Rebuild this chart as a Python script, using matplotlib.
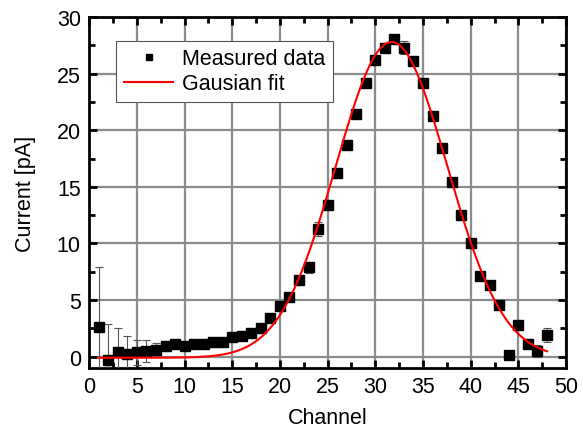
import numpy as np
import matplotlib.pyplot as plt
from matplotlib.ticker import MultipleLocator

plt.rcParams['font.family'] = ['Liberation Sans', 'DejaVu Sans']

# measured data
channel = np.arange(1, 49)
current = [2.6, -0.3, 0.4, 0.2, 0.4, 0.5, 0.6, 0.9, 1.1, 0.9,
           1.1, 1.1, 1.3, 1.3, 1.7, 1.8, 2.1, 2.5, 3.4, 4.5,
           5.3, 6.8, 7.9, 11.3, 13.4, 16.2, 18.7, 21.4, 24.2, 26.2,
           27.3, 28.1, 27.3, 26.1, 24.2, 21.3, 18.4, 15.4, 12.5, 10.0,
           7.1, 6.3, 4.6, 0.1, 2.8, 1.1, 0.5, 1.9]
error = [5.3, 3.2, 2.1, 1.6, 1.1, 1.0, 0.6, 0.4, 0.3, 0.2,
         0.1, 0.1, 0.1, 0.1, 0.2, 0.2, 0.3, 0.4, 0.2, 0.2,
         0.2, 0.2, 0.5, 0.6, 0.3, 0.2, 0.2, 0.2, 0.2, 0.2,
         0.2, 0.2, 0.6, 0.3, 0.2, 0.2, 0.2, 0.2, 0.2, 0.2,
         0.2, 0.2, 0.2, 0.1, 0.3, 0.2, 0.5, 0.6]

# gaussian fit parameters
y0 = -0.1
amp = 27.9
xc = 31.7
sigma = 5.85

xfit = np.linspace(1, 48, 300)
yfit = y0 + amp * np.exp(-(xfit - xc) ** 2 / (2 * sigma ** 2))

fig = plt.figure(figsize=(5.83, 4.31), dpi=100)
ax = fig.add_axes([0.153, 0.144, 0.818, 0.814])

ax.errorbar(channel, current, yerr=error, fmt='none', ecolor='#555555',
            elinewidth=0.8, capsize=3, capthick=0.8, zorder=3)
ax.plot(channel, current, 's', color='black', markersize=6.8,
        label='Measured data', zorder=4)
ax.plot(xfit, yfit, color='red', lw=1.5, label='Gausian fit', zorder=5)

ax.set_xlim(0, 50)
ax.set_ylim(-1, 30)
ax.xaxis.set_major_locator(MultipleLocator(5))
ax.xaxis.set_minor_locator(MultipleLocator(2.5))
ax.yaxis.set_major_locator(MultipleLocator(5))
ax.yaxis.set_minor_locator(MultipleLocator(2.5))
ax.tick_params(which='both', direction='in', top=True, right=True,
               labelsize=15.5, width=2, color='black')
ax.tick_params(which='major', length=6, pad=6)
ax.tick_params(which='minor', length=4)
for s in ax.spines.values():
    s.set_linewidth(2)

ax.grid(True, which='major', color='#8c8c8c', lw=1.6)
ax.set_axisbelow(True)

ax.set_xlabel('Channel', fontsize=15.5, labelpad=7)
ax.set_ylabel('Current [pA]', fontsize=15.5, labelpad=15)

leg = ax.legend(loc='upper left', bbox_to_anchor=(0.057, 0.933), fontsize=15.5,
                fancybox=False, framealpha=1, edgecolor='#555555',
                borderpad=0.35, handlelength=2.3, handletextpad=0.4,
                labelspacing=0.2, markerscale=0.6, borderaxespad=0)
leg.get_frame().set_linewidth(0.8)

fig.savefig('out.png', dpi=100)
